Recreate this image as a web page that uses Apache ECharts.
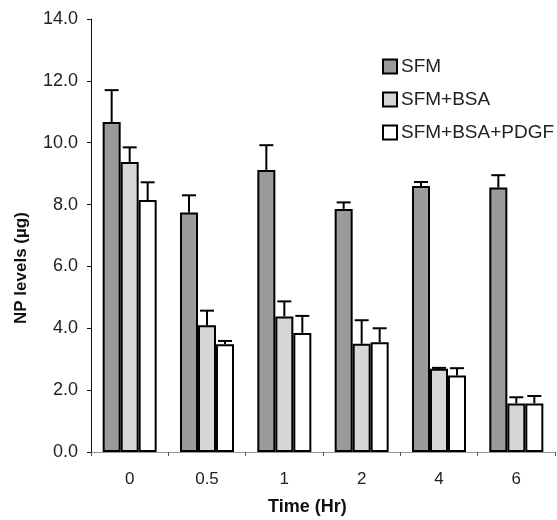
<!DOCTYPE html>
<html>
<head>
<meta charset="utf-8">
<script src="https://cdn.jsdelivr.net/npm/echarts@6/dist/echarts.min.js"></script>
<style>html,body{margin:0;padding:0;background:#fff}#c{width:557px;height:520px}</style>
</head>
<body>
<div id="c"></div>
<script>
const categories = ['0', '0.5', '1', '2', '4', '6'];
const seriesNames = ['SFM', 'SFM+BSA', 'SFM+BSA+PDGF'];
const sfm      = [10.67, 7.74, 9.12, 7.86, 8.60, 8.55];
const sfmErr   = [11.70, 8.30, 9.92, 8.07, 8.73, 8.95];
const bsa      = [9.38, 4.10, 4.38, 3.50, 2.69, 1.57];
const bsaErr   = [9.85, 4.57, 4.87, 4.26, 2.72, 1.77];
const pdgf     = [8.15, 3.48, 3.85, 3.55, 2.47, 1.57];
const pdgfErr  = [8.72, 3.59, 4.40, 4.00, 2.71, 1.81];
const yTicks = [0, 2, 4, 6, 8, 10, 12, 14];

const FONT = '"Liberation Sans", Arial, sans-serif';
const BAR_W = 18;
const colors = ['#9b9b9b', '#d6d6d6', '#ffffff'];
const values = [sfm, bsa, pdgf];
const errs = [sfmErr, bsaErr, pdgfErr];

const chart = echarts.init(document.getElementById('c'), null, {renderer: 'canvas'});

const barSeries = seriesNames.map((n, i) => ({
  name: n,
  type: 'bar',
  data: values[i],
  barWidth: BAR_W,
  barGap: '0%',
  itemStyle: {color: colors[i], borderColor: '#000', borderWidth: 2},
  z: 2
}));

const errSeries = seriesNames.map((n, i) => ({
  name: n + ' err',
  type: 'custom',
  z: 3,
  data: categories.map((c, k) => [k, values[i][k], errs[i][k]]),
  renderItem: function (params, api) {
    const top = api.coord([api.value(0), api.value(1)]);
    const hi = api.coord([api.value(0), api.value(2)]);
    const x = top[0] + (i - 1) * BAR_W;
    const cap = 7;
    return {
      type: 'group',
      children: [
        {type: 'line', shape: {x1: x, y1: top[1], x2: x, y2: hi[1]}, style: {stroke: '#000', lineWidth: 2}},
        {type: 'line', shape: {x1: x - cap, y1: hi[1], x2: x + cap, y2: hi[1]}, style: {stroke: '#000', lineWidth: 2}}
      ]
    };
  }
}));

chart.setOption({
  animation: false,
  backgroundColor: '#fff',
  grid: {left: 91, right: 2, top: 19, bottom: 68, containLabel: false},
  legend: {
    data: seriesNames,
    orient: 'vertical',
    left: 377,
    top: 52,
    icon: 'rect',
    itemWidth: 14,
    itemHeight: 14,
    itemGap: 14,
    itemStyle: {borderColor: '#000', borderWidth: 2},
    textStyle: {fontFamily: FONT, fontSize: 19, color: '#222', lineHeight: 16, padding: [0, 0, 0, -1]}
  },
  xAxis: {
    type: 'category',
    data: categories,
    axisLine: {lineStyle: {color: '#999', width: 1}},
    axisTick: {show: true, alignWithLabel: false, length: 4, lineStyle: {color: '#555'}},
    axisLabel: {fontFamily: FONT, fontSize: 17, color: '#222', margin: 19}
  },
  yAxis: {
    type: 'value',
    min: yTicks[0],
    max: yTicks[yTicks.length - 1],
    interval: 2,
    splitLine: {show: false},
    axisLine: {show: true, lineStyle: {color: '#111', width: 1}},
    axisTick: {show: true, length: 4, lineStyle: {color: '#111'}},
    axisLabel: {fontFamily: FONT, fontSize: 18, color: '#222', margin: 13, formatter: v => v.toFixed(1)}
  },
  graphic: [
    {type: 'text', left: 268, top: 498, style: {text: 'Time (Hr)', font: 'bold 18px ' + FONT, fill: '#111'}},
    {type: 'text', x: 13, y: 324, rotation: Math.PI / 2, style: {text: 'NP levels (µg)', font: 'bold 17px ' + FONT, fill: '#111', textVerticalAlign: 'top'}}
  ],
  series: barSeries.concat(errSeries)
});
</script>
</body>
</html>
